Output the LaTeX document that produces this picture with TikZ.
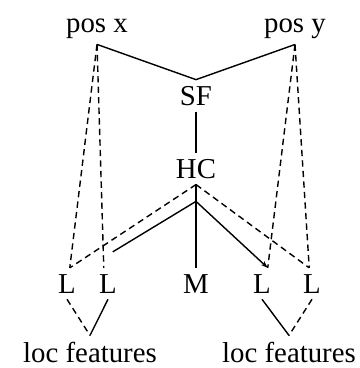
\documentclass[tikz,border=0pt]{standalone}
\usepackage{fontspec}
\setmainfont{Liberation Serif}
\usetikzlibrary{positioning}
\usetikzlibrary{arrows.meta}
\tikzset{
    lbl/.style={anchor=base, inner sep=0.15cm, font=\rmfamily\fontsize{20.5}{24}\selectfont},
    solidline/.style={draw=black, line width=1pt},
    dashline/.style={draw=black, line width=1pt, dash pattern=on 4.5pt off 3pt},
    headline/.style={solidline, -{Stealth[length=5pt,width=3.5pt]}},
}

\begin{document}
\begin{tikzpicture}[x=0.025cm, y=-0.025cm]

\useasboundingbox (0,0) rectangle (360,368);

		% top level
		\node[lbl] (posx) at (97,32) {pos x};
		\node[lbl] (posy) at (295,32) {pos y};
		\node[lbl] (SF) at (196,105) {SF};
		\node[lbl] (HC) at (196,178) {HC};
		% leaves
		\node[lbl] (L1) at (67,293) {L};
		\node[lbl] (L2) at (108,293) {L};
		\node[lbl] (M) at (196,293) {M};
		\node[lbl] (L3) at (262,293) {L};
		\node[lbl] (L4) at (312,293) {L};
		\node[lbl] (locl) at (90,362) {loc features};
		\node[lbl] (locr) at (289,362) {loc features};

		\coordinate[below=0.42cm of HC.south] (hcfork);
		\coordinate[above right=0.4cm and 0.12cm of L2.north] (l2tip);

		\draw[solidline] (posx.south) -- (SF.north);
		\draw[solidline] (posy.south) -- (SF.north);
		\draw[solidline] (SF) -- (HC);
		\draw[solidline] (HC.south) -- (M.north);

		\draw[dashline] (posx.south) -- (L1.80);
		\draw[dashline] (posx.south) -- (L2.105);
		\draw[dashline] (posy.south) -- (L3.70);
		\draw[dashline] (posy.south) -- (L4.100);

		\draw[dashline] (HC.south) -- (L1.80);
		\draw[dashline] (HC.south) -- (L4.100);
		\draw[solidline] (hcfork) -- (l2tip);
		\draw[headline] (hcfork) -- (L3.70);

		\draw[dashline] (L1.south) -- (locl.north);
		\draw[solidline] (L2.south) -- (locl.north);
		\draw[solidline] (L3.south) -- (locr.north);
		\draw[dashline] (L4.south) -- (locr.north);
\end{tikzpicture}
\end{document}
